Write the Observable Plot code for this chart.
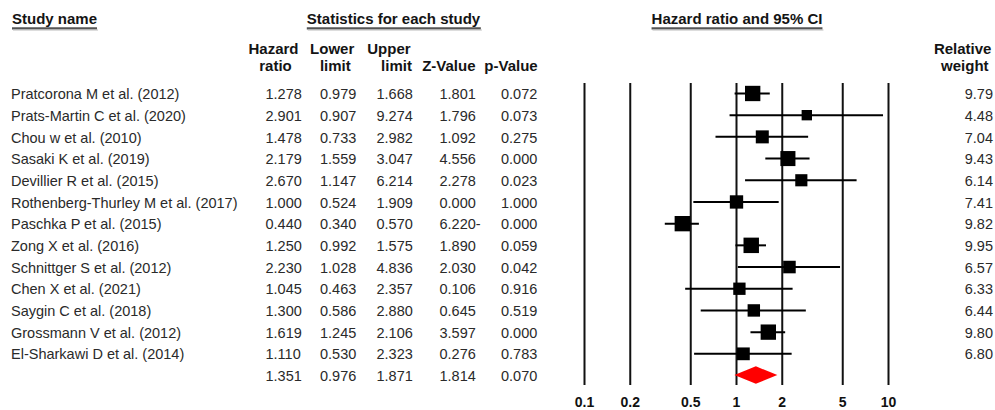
<!DOCTYPE html>
<html>
<head>
<meta charset="utf-8">
<script src="https://cdn.jsdelivr.net/npm/d3@7"></script>
<script src="https://cdn.jsdelivr.net/npm/@observablehq/plot@0.6"></script>
<style>
html, body { margin: 0; padding: 0; background: #fff; }
#chart svg { display: block; }
</style>
</head>
<body>
<div id="chart"></div>
<script>
// ---- data ----
const studies = [
  "Pratcorona M et al. (2012)",
  "Prats-Martin C et al. (2020)",
  "Chou w et al. (2010)",
  "Sasaki K et al. (2019)",
  "Devillier R et al. (2015)",
  "Rothenberg-Thurley M et al. (2017)",
  "Paschka P et al. (2015)",
  "Zong X et al. (2016)",
  "Schnittger S et al. (2012)",
  "Chen X et al. (2021)",
  "Saygin C et al. (2018)",
  "Grossmann V et al. (2012)",
  "El-Sharkawi D et al. (2014)"
];
const hazardRatio = [1.278, 2.901, 1.478, 2.179, 2.670, 1.000, 0.440, 1.250, 2.230, 1.045, 1.300, 1.619, 1.110];
const lowerLimit  = [0.979, 0.907, 0.733, 1.559, 1.147, 0.524, 0.340, 0.992, 1.028, 0.463, 0.586, 1.245, 0.530];
const upperLimit  = [1.668, 9.274, 2.982, 3.047, 6.214, 1.909, 0.570, 1.575, 4.836, 2.357, 2.880, 2.106, 2.323];
const zValue      = [1.801, 1.796, 1.092, 4.556, 2.278, 0.000, -6.220, 1.890, 2.030, 0.106, 0.645, 3.597, 0.276];
const pValue      = [0.072, 0.073, 0.275, 0.000, 0.023, 1.000, 0.000, 0.059, 0.042, 0.916, 0.519, 0.000, 0.783];
const relWeight   = [9.79, 4.48, 7.04, 9.43, 6.14, 7.41, 9.82, 9.95, 6.57, 6.33, 6.44, 9.80, 6.80];
const summaryHR = 1.351, summaryLower = 0.976, summaryUpper = 1.871, summaryZ = 1.814, summaryP = 0.070;
const tickValues = [0.1, 0.2, 0.5, 1, 2, 5, 10];
const sectionHeaders = ["Study name", "Statistics for each study", "Hazard ratio and 95% CI"];

// ---- build tables ----
const fmt3 = d3.format(".3f");
const fmt2 = d3.format(".2f");
const zFmt = v => v < 0 ? fmt3(-v) + "-" : fmt3(v);

const rows = studies.map((name, i) => ({
  i, name, hr: hazardRatio[i], lower: lowerLimit[i], upper: upperLimit[i],
  z: zValue[i], p: pValue[i], w: relWeight[i]
}));
const nS = studies.length;
const summaryRow = {i: nS, name: "", hr: summaryHR, lower: summaryLower, upper: summaryUpper, z: summaryZ, p: summaryP};
const tableRows = [...rows, summaryRow];
const diamond = [
  {y: nS - 0.4, x1: summaryHR, x2: summaryHR},
  {y: nS,       x1: summaryLower, x2: summaryUpper},
  {y: nS + 0.4, x1: summaryHR, x2: summaryHR}
];

// ---- layout ----
const W = 995, H = 410;
const ML = 584, MR = 107, MT = 83, MB = 25;
const FONT = "'Liberation Sans', Arial, Helvetica, sans-serif";
const dataFill = "#2a2a2a";
const headFill = "#141414";

// header text helper (pixel-placed labels)
const label = (s, px, py, o = {}) => Plot.text([s], {
  text: d => d, frameAnchor: "top-left", dx: px - ML, dy: py - MT,
  lineAnchor: "bottom", fontWeight: "bold", fontSize: 15, fill: headFill, ...o
});
// table column helper
const column = (accessor, px, anchor) => Plot.text(tableRows, {
  y: "i", text: accessor, frameAnchor: "left", dx: px - ML, dy: 1,
  textAnchor: anchor, fontSize: 14.5, fill: dataFill
});

const chart = Plot.plot({
  width: W, height: H,
  marginLeft: ML, marginRight: MR, marginTop: MT, marginBottom: MB,
  style: {fontFamily: FONT, background: "#fff", overflow: "visible"},
  x: {type: "log", domain: [0.1, 10]},
  y: {domain: [-0.46, 13.46], reverse: true, axis: null},
  r: {type: "sqrt", domain: [0, 10], range: [0, 4.9 * Math.sqrt(10 / Math.PI)]},
  marks: [
    // vertical reference lines
    Plot.ruleX(tickValues, {stroke: "#111", strokeWidth: 2}),
    // confidence intervals
    Plot.ruleY(rows, {y: "i", x1: "lower", x2: "upper", stroke: "#000", strokeWidth: 2}),
    // point estimates (area proportional to weight)
    Plot.dot(rows, {x: "hr", y: "i", r: "w", symbol: "square", fill: "#000", stroke: null}),
    // summary diamond
    Plot.areaX(diamond, {y: "y", x1: "x1", x2: "x2", fill: "#ff0000", curve: "linear"}),
    // x axis
    Plot.axisX({ticks: tickValues, tickSize: 0, tickPadding: 12, tickFormat: d => String(d),
      fontWeight: "bold", fontSize: 14, fill: "#111", label: null}),
    // table columns
    column(d => d.name, 10.5, "start"),
    column(d => fmt3(d.hr), 265, "start"),
    column(d => fmt3(d.lower), 319.5, "start"),
    column(d => fmt3(d.upper), 376, "start"),
    column(d => zFmt(d.z), 439, "start"),
    column(d => fmt3(d.p), 500.5, "start"),
    Plot.text(rows, {y: "i", text: d => fmt2(d.w), frameAnchor: "right", dx: 992.5 - (W - MR), dy: 1,
      textAnchor: "end", fontSize: 14.5, fill: dataFill}),
    // section headers
    label(sectionHeaders[0], 11.5, 23.5, {textAnchor: "start"}),
    label(sectionHeaders[1], 393, 23.5, {textAnchor: "middle"}),
    label(sectionHeaders[2], 736.5, 23.5, {textAnchor: "middle"}),
    // column headers
    label("Hazard", 273, 53.5, {textAnchor: "middle"}),
    label("ratio", 275, 70, {textAnchor: "middle"}),
    label("Lower", 331.7, 53.5, {textAnchor: "middle"}),
    label("limit", 334.8, 70, {textAnchor: "middle"}),
    label("Upper", 388.4, 53.5, {textAnchor: "middle"}),
    label("limit", 396, 70, {textAnchor: "middle"}),
    label("Z-Value", 448.3, 70, {textAnchor: "middle"}),
    label("p-Value", 510.5, 70, {textAnchor: "middle"}),
    label("Relative", 962.2, 53.5, {textAnchor: "middle"}),
    label("weight", 964.3, 70, {textAnchor: "middle"})
  ]
});

document.getElementById("chart").appendChild(chart);

// underline the section headers (decoration only, measured from the rendered text)
const svgBox = chart.getBoundingClientRect();
const ul = d3.select(chart).append("g").attr("aria-label", "header underlines");
Array.from(chart.querySelectorAll("text"))
  .filter(t => sectionHeaders.includes(t.textContent.trim()))
  .forEach(t => {
    const b = t.getBoundingClientRect();
    const x0 = b.left - svgBox.left, x1 = b.right - svgBox.left;
    ul.append("line").attr("x1", x0).attr("x2", x1).attr("y1", 28.3).attr("y2", 28.3)
      .attr("stroke", "#555").attr("stroke-width", 2.2);
    ul.append("line").attr("x1", x0 + 1).attr("x2", x1 + 1).attr("y1", 30).attr("y2", 30)
      .attr("stroke", "#bbb").attr("stroke-width", 1);
  });
</script>
</body>
</html>
